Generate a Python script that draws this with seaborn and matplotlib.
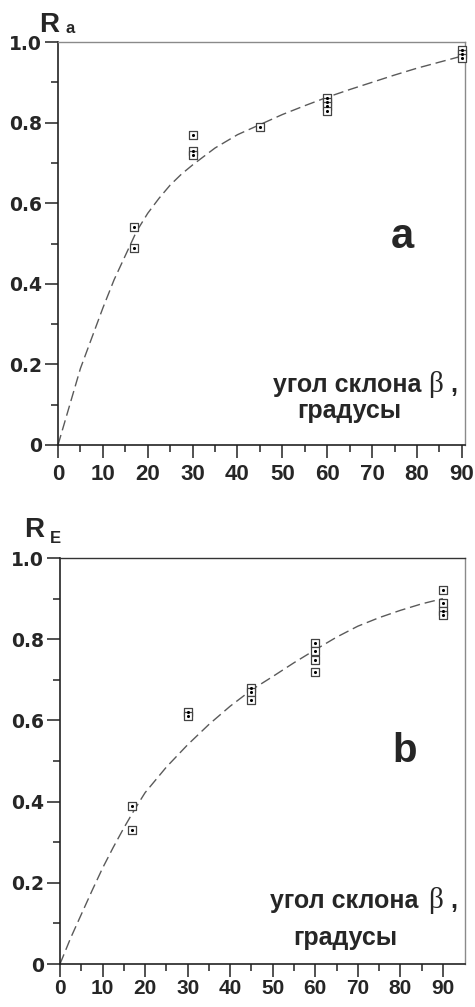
import numpy as np
import pandas as pd
import matplotlib
matplotlib.use("Agg")
import matplotlib.pyplot as plt
import seaborn as sns

# ---------------- data ----------------
a_pts_x = [17, 17, 30, 30, 30, 45, 60, 60, 60, 60, 90, 90, 90]
a_pts_y = [0.54, 0.49, 0.77, 0.73, 0.72, 0.79, 0.86, 0.85, 0.84, 0.83, 0.98, 0.97, 0.96]
a_curve_x = [0, 2.5, 5, 7.5, 10, 12.5, 15, 17.5, 20, 22.5, 25, 27.5, 30, 35, 40, 45,
             50, 55, 60, 65, 70, 75, 80, 85, 90]
a_curve_y = [0, 0.095, 0.19, 0.265, 0.34, 0.41, 0.47, 0.53, 0.575, 0.612, 0.645, 0.672,
             0.695, 0.737, 0.77, 0.795, 0.82, 0.842, 0.863, 0.882, 0.90, 0.918, 0.935,
             0.95, 0.965]

b_pts_x = [17, 17, 30, 30, 45, 45, 45, 60, 60, 60, 60, 90, 90, 90, 90]
b_pts_y = [0.39, 0.33, 0.62, 0.61, 0.68, 0.67, 0.65, 0.79, 0.77, 0.75, 0.72,
           0.92, 0.89, 0.87, 0.86]
b_curve_x = [0, 2.5, 5, 7.5, 10, 12.5, 15, 17.5, 20, 25, 30, 35, 40, 45, 50, 55, 60,
             65, 70, 75, 80, 85, 90]
b_curve_y = [0, 0.064, 0.122, 0.18, 0.236, 0.287, 0.335, 0.38, 0.422, 0.485, 0.54,
             0.59, 0.635, 0.675, 0.708, 0.742, 0.774, 0.805, 0.832, 0.853, 0.871,
             0.887, 0.90]

x_ticks = [0, 10, 20, 30, 40, 50, 60, 70, 80, 90]
y_ticks = [0, 0.2, 0.4, 0.6, 0.8, 1.0]
y_ticklabels = ["0", "0.2", "0.4", "0.6", "0.8", "1.0"]

# ---------------- figure ----------------
sns.set_style("ticks")
plt.rcParams["font.family"] = ["Liberation Sans", "DejaVu Sans"]

W, H = 475, 1007
fig = plt.figure(figsize=(W / 100, H / 100), dpi=100)


def fx(px):
    return px / W


def fy(py):
    return 1 - py / H


ax_a = fig.add_axes([fx(58), fy(445), fx(465) - fx(58), fy(42) - fy(445)])
ax_b = fig.add_axes([fx(60), fy(964), fx(465) - fx(60), fy(558) - fy(964)])

panels = [
    (ax_a, a_pts_x, a_pts_y, a_curve_x, a_curve_y, 90.7, "#8a8a8a", "Liberation Sans", 16, 4),
    (ax_b, b_pts_x, b_pts_y, b_curve_x, b_curve_y, 95.2, "#333333", "Liberation Sans", 15, 1),
]

for ax, px, py, cx, cy, xmax, topcol, xfont, xsize, xpad in panels:
    dfc = pd.DataFrame({"x": cx, "y": cy})
    dfp = pd.DataFrame({"x": px, "y": py})
    sns.lineplot(data=dfc, x="x", y="y", ax=ax, color="#5a5a5a", linewidth=1.0,
                 linestyle=(0, (7.5, 3.5)), sort=True, clip_on=False)
    sns.scatterplot(data=dfp, x="x", y="y", ax=ax, marker="s", s=34,
                    facecolor="white", edgecolor="#444444", linewidth=0.9,
                    zorder=3, clip_on=False)
    sns.scatterplot(data=dfp, x="x", y="y", ax=ax, marker="o", s=5,
                    color="black", edgecolor="black", linewidth=0,
                    zorder=4, clip_on=False)
    ax.set_xlim(0, xmax)
    ax.set_ylim(0, 1.0)
    ax.set_xticks(x_ticks)
    ax.set_xticks(np.arange(5, 90, 10), minor=True)
    ax.set_yticks(y_ticks)
    ax.set_yticks([0.1, 0.3, 0.5, 0.7, 0.9], minor=True)
    ax.set_yticklabels(y_ticklabels, fontsize=13.5, fontweight="bold", family="DejaVu Sans")
    ax.set_xticklabels([str(t) for t in x_ticks], fontsize=xsize, fontweight="bold",
                       family=xfont)
    ax.tick_params(which="major", length=9.5, width=1.1, color="#222222", pad=2)
    ax.tick_params(which="minor", length=5, width=1.1, color="#222222")
    ax.tick_params(axis="x", which="major", pad=xpad)
    ax.set_xlabel("")
    ax.set_ylabel("")
    for s in ["left", "bottom"]:
        ax.spines[s].set_color("#222222")
        ax.spines[s].set_linewidth(1.2)
    ax.spines["top"].set_color(topcol)
    ax.spines["top"].set_linewidth(1.0)
    ax.spines["right"].set_color("#8a8a8a")
    ax.spines["right"].set_linewidth(1.0)
    ax.set_facecolor("white")

# axis titles R_a, R_E
fig.text(fx(39), fy(32), "R", fontsize=20, fontweight="bold", ha="left", va="baseline")
fig.text(fx(66), fy(33), "a", fontsize=12, fontweight="bold", ha="left", va="baseline")
fig.text(fx(24), fy(537), "R", fontsize=20, fontweight="bold", ha="left", va="baseline")
fig.text(fx(50), fy(543), "E", fontsize=12, fontweight="bold", ha="left", va="baseline")

# panel letters
fig.text(fx(391), fy(248), "a", fontsize=30, fontweight="bold", ha="left", va="baseline")
fig.text(fx(392), fy(762), "b", fontsize=29, fontweight="bold", ha="left", va="baseline")

# x-axis caption inside plots
for (l1x, l1y, bx, cx2, l2x, l2y) in [(273, 392, 428, 450, 297, 418),
                                       (270, 908, 428, 450, 293, 945)]:
    fig.text(fx(l1x), fy(l1y), "угол склона", fontsize=18, fontweight="bold",
             ha="left", va="baseline")
    fig.text(fx(bx), fy(l1y), "β", fontsize=21, family="Liberation Serif",
             ha="left", va="baseline")
    fig.text(fx(cx2), fy(l1y), ",", fontsize=18, fontweight="bold",
             ha="left", va="baseline")
    fig.text(fx(l2x), fy(l2y), "градусы", fontsize=18, fontweight="bold",
             ha="left", va="baseline")

fig.savefig("out.png", dpi=100, facecolor="white")
